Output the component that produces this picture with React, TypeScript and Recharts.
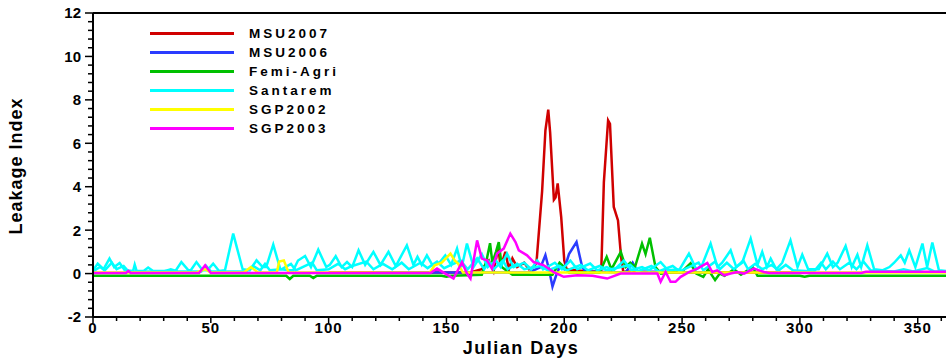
import React from "react";
import { LineChart, Line, XAxis, YAxis, Legend, ReferenceLine } from "recharts";

const FONT = '"Liberation Sans", Arial, Helvetica, sans-serif';

// [julian day, leakage index] pairs
const msu2007: [number, number][] = [
  [100, 0.05], [160, 0.05], [165, 0.2], [168, 0.6], [170, 0.1], [172, 1.2], [173, 0.3],
  [175, 1.0], [176.5, 0.2], [178, 0.7], [180, 0.3], [183, 0.5], [185, 0.2], [187, 0.3],
  [188.2, 0.5], [190.6, 3.8], [192, 6.6], [193.2, 7.55], [194, 6.5], [195.6, 3.4],
  [196.3, 3.5], [197.2, 4.15], [198.7, 2.6], [200, 0.6], [201, 0.2], [210, 0.1],
  [215, 0.1], [215.7, 0.15], [216.8, 4.2], [218.6, 7.06], [219.4, 6.9], [221, 3.07],
  [222.8, 2.45], [224.1, 0.77], [225, 0.1], [240, 0.05], [300, 0.05],
];

const msu2006: [number, number][] = [
  [120, 0.05], [185, 0.05], [190, 0.3], [192, 0.85], [193.5, 0.2], [195, -0.6],
  [196.5, -0.1], [198, 0.3], [200, 0.2], [202, 0.9], [205.2, 1.45], [207.6, 0.3],
  [209, 0.1], [226, 0.05], [229, 0.5], [231, 0.1], [260, 0.05],
];

const femiAgri: [number, number][] = [
  [0, -0.1], [82, -0.1], [83.5, -0.25], [85, -0.1], [92, -0.1], [93.5, -0.2], [95, -0.1],
  [148, -0.1], [150, -0.15], [152, -0.1], [165, -0.05], [167, 0.6], [168.5, 1.4],
  [169.5, 0.5], [171, 1.0], [172.2, 1.45], [173.5, 0.3], [176, 0.1], [178, -0.05],
  [195, -0.05], [198, 0.5], [200, 0.3], [202, 0.05], [215, 0.05], [218, 0.77], [220, 0.2],
  [222, 0.6], [224, 1.0], [226, 0.3], [228, 0.5], [230, 0.3], [233, 1.38], [234.5, 0.9],
  [236.3, 1.65], [238.7, 0.3], [241, 0.0], [250, 0.1], [253.6, 0.47], [256, 0.0],
  [259, -0.15], [261, 0.2], [264, -0.3], [266, 0.0], [268, -0.1], [272, 0.2], [275, -0.05],
  [280, 0.3], [282, -0.1], [300, -0.1], [302, -0.15], [304, -0.1], [362, -0.1],
];

// Santarem has several years overlaid, kept as two traces
const santaremA: [number, number][] = [
  [0, 0.15], [2, 0.46], [4.5, 0.2], [7, 0.69], [9, 0.3], [11.3, 0.49], [13.5, 0.15], [17, 0.12],
  [17.7, 0.41], [18.5, 0.12], [21.5, 0.12], [23.4, 0.28], [25.5, 0.12], [35, 0.12], [37.5, 0.53],
  [40.5, 0.15], [41.5, 0.15], [43.9, 0.53], [46.5, 0.15], [48.5, 0.15], [51, 0.46], [53.5, 0.12],
  [56, 0.15], [59.5, 1.84], [63.5, 0.2], [66.5, 0.15], [69.4, 0.61], [72, 0.3], [73.5, 0.3],
  [76.5, 1.33], [79.5, 0.2], [83, 0.15], [85, 0.15], [87, 0.6], [90, 0.81], [92.5, 0.3],
  [95.6, 1.1], [99, 0.3], [100.5, 0.4], [103, 0.8], [105.5, 0.3], [107.8, 0.53], [110, 0.3],
  [112.7, 1.07], [115.5, 0.4], [119, 1.0], [122, 0.4], [125.4, 1.0], [128.5, 0.35],
  [133.2, 1.3], [136, 0.4], [137.7, 0.77], [139.5, 0.4], [141.7, 0.84], [144, 0.4],
  [147, 0.5], [149.5, 0.84], [152, 0.4], [154.5, 1.15], [156.5, 0.3], [158.7, 1.38],
  [161.5, 0.3], [165, 0.9], [167.5, 0.3], [171, 0.6], [173, 0.3], [175.7, 0.92], [178.5, 0.3],
  [183, 0.5], [186, 0.2], [188.5, 0.6], [191, 0.2], [196, 0.5], [199, 0.2], [202.6, 0.6],
  [205.5, 0.2], [211, 0.46], [214, 0.15], [218, 0.3], [221, 0.15], [225.3, 0.6], [228.5, 0.15],
  [233, 0.3], [236, 0.15], [240.9, 0.53], [244, 0.15], [249, 0.2], [252.9, 0.92], [256, 0.2],
  [258.5, 0.4], [262.1, 1.38], [265, 0.3], [267, 0.5], [270.6, 1.07], [273, 0.3], [275.5, 0.5],
  [279.1, 1.61], [282, 0.4], [284, 1.0], [286, 0.3], [287.6, 0.69], [290, 0.2], [292.5, 0.5],
  [296, 1.53], [299, 0.3], [301, 0.87], [303.5, 0.2], [308, 0.2], [311.6, 0.92], [314, 0.3],
  [316, 0.5], [319.4, 1.27], [322, 0.3], [324.4, 0.87], [326, 0.3], [328.6, 1.3], [331.5, 0.2],
  [335, 0.15], [338, 0.3], [340, 0.5], [342.8, 0.84], [344.5, 0.5], [346.4, 1.07], [349, 0.3],
  [352, 1.38], [354, 0.3], [356.2, 1.43], [359, 0.15], [362, 0.12],
];

const santaremB: [number, number][] = [
  [0, 0.1], [3, 0.3], [5, 0.15], [8, 0.5], [10, 0.2], [13, 0.35], [15, 0.1], [30, 0.1],
  [33, 0.2], [36, 0.1], [46, 0.1], [48, 0.35], [50, 0.1], [65, 0.1], [68, 0.35], [71, 0.15],
  [73, 0.45], [75, 0.15], [80, 0.2], [84, 0.45], [86, 0.15], [93, 0.5], [95, 0.15],
  [100, 0.2], [104, 0.45], [107, 0.2], [110, 0.35], [116, 0.55], [119, 0.2], [123, 0.45],
  [127, 0.2], [131, 0.5], [134, 0.2], [139, 0.5], [142, 0.25], [146, 0.55], [149, 0.25],
  [152, 0.4], [156, 0.6], [159, 0.2], [163, 0.7], [166, 0.2], [168, 0.55], [170, 0.2],
  [174, 0.6], [176, 0.2], [180, 0.45], [183, 0.2], [190, 0.35], [193, 0.15], [198, 0.35],
  [201, 0.15], [207, 0.4], [210, 0.15], [215, 0.35], [218, 0.15], [228, 0.4], [231, 0.1],
  [237, 0.35], [240, 0.1], [246, 0.35], [249, 0.1], [257, 0.5], [259, 0.15], [264, 0.55],
  [266, 0.2], [269, 0.5], [272, 0.2], [276, 0.6], [278, 0.2], [281, 0.45], [284, 0.2],
  [288, 0.4], [291, 0.15], [294, 0.4], [297, 0.15], [306, 0.1], [309, 0.5], [311, 0.2],
  [314, 0.55], [317, 0.2], [321, 0.5], [324, 0.2], [327, 0.55], [330, 0.15], [340, 0.1],
  [344, 0.2], [348, 0.1], [354, 0.25], [357, 0.1], [362, 0.1],
];

const sgp2002: [number, number][] = [
  [0, 0.05], [44, 0.05], [47.5, 0.2], [50, 0.05], [64, 0.05], [67, 0.3], [70, 0.05],
  [78, 0.05], [79, 0.55], [81, 0.6], [83, 0.05], [143, 0.05], [145, 0.38], [148, 0.5],
  [151.7, 0.92], [153.5, 0.6], [155, 0.45], [157, 0.05], [362, 0.05],
];

const sgp2003: [number, number][] = [
  [0, 0.03], [14, 0.03], [15, 0.12], [16, 0.03], [45, 0.03], [47.6, 0.38], [50, 0.03],
  [143.2, 0.03], [146, 0.23], [149.5, 0.0], [153, -0.23], [156.6, 0.53], [158.7, 0.0],
  [160.2, -0.23], [163, 1.53], [165, 0.69], [167.2, 0.61], [169.3, 0.23], [171.5, 0.92],
  [174.3, 1.15], [177.1, 1.84], [179.3, 1.45], [180.7, 1.07], [184.2, 0.84], [187, 0.53],
  [191.3, 0.38], [195.5, 0.07], [199.8, -0.15], [205.5, -0.08], [212, -0.1], [218.2, -0.23],
  [223.9, 0.0], [239.5, 0.0], [240.9, -0.38], [243, 0.07], [245.1, -0.38], [247.2, -0.38],
  [249.4, -0.15], [252.9, 0.07], [256.5, 0.23], [260.7, 0.49], [262.8, 0.07], [264.9, 0.15],
  [267.8, -0.08], [270.6, 0.0], [273.4, 0.07], [276.3, 0.0], [280.5, 0.23], [284.8, 0.07],
  [287, 0.03], [326, 0.03], [328, 0.08], [362, 0.08],
];

const xMajorTicks = [0, 50, 100, 150, 200, 250, 300, 350];
const yMajorTicks = [-2, 0, 2, 4, 6, 8, 10, 12];

// minor ticks: every 10 days, every 0.4 on the index
const xTicks: number[] = [];
for (let d = 0; d <= 360; d += 10) xTicks.push(d);
const yTicks: number[] = [];
for (let i = 0; i <= 35; i++) yTicks.push(Math.round((-2 + i * 0.4) * 10) / 10);

const toRows = (pts: [number, number][]) => pts.map(([day, value]) => ({ day, value }));

const series = [
  { name: "MSU2007", color: "#d00000", data: toRows(msu2007), legend: true },
  { name: "MSU2006", color: "#2a3cff", data: toRows(msu2006), legend: true },
  { name: "Femi-Agri", color: "#00c000", data: toRows(femiAgri), legend: true },
  { name: "Santarem", color: "#00ffff", data: toRows(santaremA), legend: true },
  { name: "Santarem-b", color: "#00ffff", data: toRows(santaremB), legend: false },
  { name: "SGP2002", color: "#ffff00", data: toRows(sgp2002), legend: true },
  { name: "SGP2003", color: "#ff00ff", data: toRows(sgp2003), legend: true },
];

const isMajor = (list: number[], v: number) => list.some((m) => Math.abs(m - v) < 1e-6);

function XTick({ x, y, payload }: any) {
  const major = isMajor(xMajorTicks, payload.value);
  return (
    <g>
      <line x1={x} x2={x} y1={y} y2={y + (major ? 6 : 4)} stroke="#000" strokeWidth={1.5} />
      {major && (
        <text x={x} y={y + 16} textAnchor="middle" fontFamily={FONT} fontSize={15}
          fontWeight="bold" letterSpacing={1} fill="#000">
          {payload.value}
        </text>
      )}
    </g>
  );
}

function YTick({ x, y, payload }: any) {
  const major = isMajor(yMajorTicks, payload.value);
  return (
    <g>
      <line x1={x - (major ? 8 : 5)} x2={x} y1={y} y2={y} stroke="#000" strokeWidth={1.5} />
      {major && (
        <text x={x - 12} y={y} dy="0.36em" textAnchor="end" fontFamily={FONT} fontSize={15}
          fontWeight="bold" fill="#000">
          {payload.value}
        </text>
      )}
    </g>
  );
}

function LegendBox() {
  return (
    <div style={{ fontFamily: FONT }}>
      {series.filter((s) => s.legend).map((s) => (
        <div key={s.name} style={{ display: "flex", alignItems: "center", height: 19 }}>
          <span style={{ display: "inline-block", width: 84, height: 3, background: s.color }} />
          <span style={{ marginLeft: 15, fontSize: 13.5, fontWeight: "bold", letterSpacing: 3, color: "#000" }}>
            {s.name}
          </span>
        </div>
      ))}
    </div>
  );
}

export default function App() {
  return (
    <div style={{ position: "absolute", left: 0, top: 0, background: "#fff" }}>
      <LineChart width={948} height={360} margin={{ top: 13, right: 2, bottom: 0, left: 0 }}>
        <XAxis
          type="number"
          dataKey="day"
          domain={[0, 362]}
          allowDataOverflow
          ticks={xTicks}
          interval={0}
          tick={<XTick />}
          tickLine={false}
          tickSize={0}
          tickMargin={0}
          height={43}
          axisLine={{ stroke: "#000", strokeWidth: 2 }}
          label={{
            content: () => (
              <text x={521} y={354} textAnchor="middle" fontFamily={FONT} fontSize={18}
                fontWeight="bold" letterSpacing={1.5} fill="#000">
                Julian Days
              </text>
            ),
          }}
        />
        <YAxis
          type="number"
          domain={[-2, 12]}
          allowDataOverflow
          ticks={yTicks}
          interval={0}
          tick={<YTick />}
          tickLine={false}
          tickSize={0}
          tickMargin={0}
          width={93}
          axisLine={{ stroke: "#000", strokeWidth: 2 }}
          label={{
            content: () => (
              <text x={22} y={166} textAnchor="middle" fontFamily={FONT} fontSize={18}
                fontWeight="bold" letterSpacing={1} fill="#000" transform="rotate(-90 22 166)">
                Leakage Index
              </text>
            ),
          }}
        />
        <ReferenceLine y={12} stroke="#000" strokeWidth={2} />
        {series.map((s) => (
          <Line
            key={s.name}
            data={s.data}
            dataKey="value"
            name={s.name}
            type="linear"
            stroke={s.color}
            strokeWidth={2.5}
            dot={false}
            isAnimationActive={false}
            legendType={s.legend ? "line" : "none"}
          />
        ))}
        <Legend
          layout="vertical"
          align="center"
          verticalAlign="middle"
          wrapperStyle={{ top: 24, left: 150, width: "auto" }}
          content={<LegendBox />}
        />
      </LineChart>
    </div>
  );
}
